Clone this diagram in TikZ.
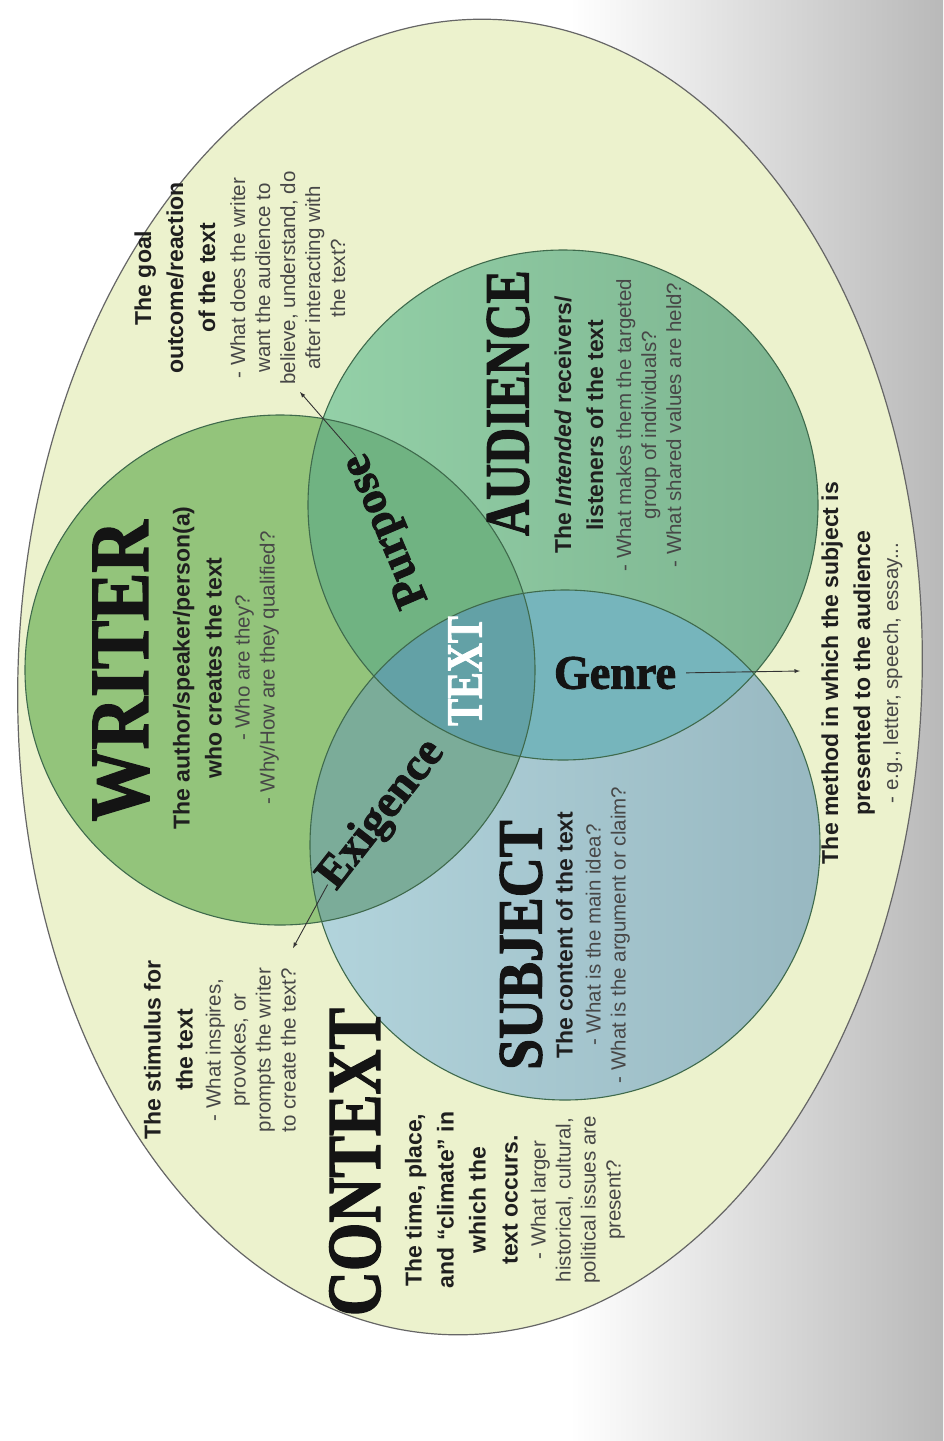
\documentclass[tikz,border=0pt]{standalone}
\usepackage{fontspec}
\setmainfont{Liberation Sans}
\newfontfamily\posterfont[BoldFeatures={FakeBold=2}]{Liberation Serif}
\usetikzlibrary{positioning}

\definecolor{ovalfill}{HTML}{ECF2CD}
\definecolor{writerfill}{HTML}{93C47B}
\definecolor{audleft}{HTML}{94D1A8}
\definecolor{audright}{HTML}{7CB38F}
\definecolor{subjleft}{HTML}{B2D4DC}
\definecolor{subjright}{HTML}{98B8C1}
\definecolor{purposefill}{HTML}{70B382}
\definecolor{exigfill}{HTML}{7BAC99}
\definecolor{genrefill}{HTML}{76B5BC}
\definecolor{textfill}{HTML}{63A1A6}
\definecolor{rimline}{HTML}{3F6A4C}

\newcommand{\mainln}[1]{{\fontsize{23}{28}\selectfont\bfseries #1}}
\newcommand{\askln}[1]{{\color{black!72}#1}}

\tikzset{
  bigword/.style={font=\posterfont\bfseries\fontsize{#1}{#1}\selectfont, inner sep=0pt, text=black!92},
  desc/.style={font=\fontsize{20.5}{25}\selectfont, align=center, rotate=90, inner sep=0pt, text=black!88},
  venn/.style={draw=rimline, line width=1.1pt},
  pointer/.style={->, >=latex, line width=0.9pt, draw=black!80}
}

\begin{document}
\begin{tikzpicture}[x=1pt, y=-1pt]

    % Fondo
    \useasboundingbox (0,0) rectangle (943,1441);
    \fill[white] (0,0) rectangle (943,1441);
    \shade[left color=white, right color=gray!55] (570,0) rectangle (943,1441);

    % Elipse exterior
    \draw[fill=ovalfill, draw=black!60, line width=1.2pt, rotate around={-2:(470,677)}]
      (470,677) ellipse [x radius=452, y radius=658];

    % Centros de los circulos
    \coordinate (cW) at (280,670);
    \coordinate (cA) at (563,505);
    \coordinate (cS) at (565,845);

    % Circulos
    \fill[writerfill] (cW) circle (255);
    \shade[left color=audleft, right color=audright] (cA) circle (255);
    \shade[left color=subjleft, right color=subjright] (cS) circle (255);

    % Intersecciones
    \begin{scope}
      \clip (cA) circle (255);
      \fill[genrefill] (cS) circle (255);
    \end{scope}
    \begin{scope}
      \clip (cW) circle (255);
      \fill[purposefill] (cA) circle (255);
      \fill[exigfill] (cS) circle (255);
      \clip (cA) circle (255);
      \fill[textfill] (cS) circle (255);
    \end{scope}

    % Bordes
    \draw[venn] (cW) circle (255);
    \draw[venn] (cA) circle (255);
    \draw[venn] (cS) circle (255);

    % Titulos
    \node[bigword=84, rotate=90, xscale=0.86] (writer) at (121,671) {WRITER};
    \node[bigword=63, rotate=90, xscale=0.79] (audience) at (508,403) {AUDIENCE};
    \node[bigword=63, rotate=90, xscale=0.88] (subject) at (521,945) {SUBJECT};
    \node[bigword=76, rotate=90, xscale=0.82] (context) at (355,1162) {CONTEXT};
    \node[bigword=51, rotate=90, xscale=0.79, text=white] (core) at (465,671) {TEXT};
    \node[bigword=48, xscale=0.96] (genre) at (615,673) {Genre};
    \node[bigword=46, rotate=113] (purp) at (387,530) {Purpose};
    \node[bigword=46, rotate=52] (exig) at (382,815) {Exigence};

    % Descripciones
    \node[desc] (goalTxt) at (240,278) {\mainln{The goal}\\[7pt] \mainln{outcome/reaction}\\[7pt] \mainln{of the text}\\[5pt]
      \askln{- What does the writer}\\ \askln{want the audience to}\\ \askln{believe, understand, do}\\
      \askln{after interacting with}\\ \askln{the text?}};
    \node[desc] (writerTxt) at (226,668) {\mainln{The author/speaker/person(a)}\\[7pt] \mainln{who creates the text}\\[3pt]
      \askln{- Who are they?}\\ \askln{- Why/How are they qualified?}};
    \node[desc] (stimTxt) at (220,1050) {\mainln{The stimulus for}\\[7pt] \mainln{the text}\\[3pt] \askln{- What inspires,}\\
      \askln{provokes, or}\\ \askln{prompts the writer}\\ \askln{to create the text?}};
    \node[desc] (ctxTxt) at (515,1200) {\mainln{The time, place,}\\[7pt] \mainln{and ``climate'' in}\\[7pt] \mainln{which the}\\[7pt]
      \mainln{text occurs.}\\[3pt] \askln{- What larger}\\ \askln{historical, cultural,}\\ \askln{political issues are}\\
      \askln{present?}};
    \node[desc] (audTxt) at (618,425) {\mainln{The \textit{Intended} receivers/}\\[7pt] \mainln{listeners of the text}\\[3pt]
      \askln{- What makes them the targeted}\\ \askln{group of individuals?}\\ \askln{- What shared values are held?}};
    \node[desc] (subjTxt) at (593,935) {\mainln{The content of the text}\\[3pt] \askln{- What is the main idea?}\\
      \askln{- What is the argument or claim?}};
    \node[desc] (genreTxt) at (862,673) {\mainln{The method in which the subject is}\\[7pt] \mainln{presented to the audience}\\[3pt]
      \askln{- e.g., letter, speech, essay...}};

    % Flechas
    \coordinate (goalTip) at (300,392);
    \coordinate (stimTip) at (293,948);
    \coordinate (genreTip) at (800,671);
    \draw[pointer] (purp.east) -- (goalTip);
    \draw[pointer] (exig.west) -- (stimTip);
    \draw[pointer, shorten <=10pt] (genre.east) -- (genreTip);

  \end{tikzpicture}
\end{document}
